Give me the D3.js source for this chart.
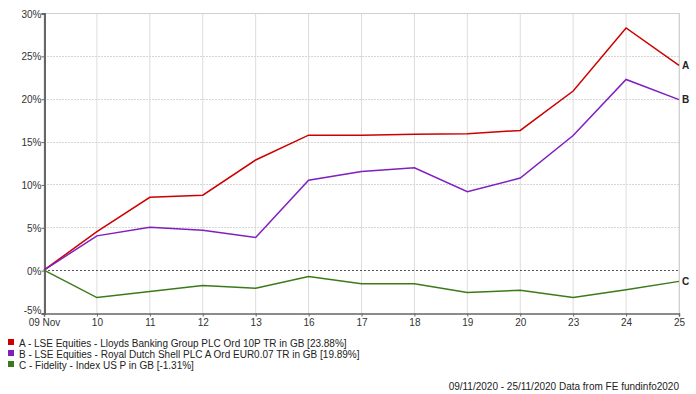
<!DOCTYPE html>
<html>
<head>
<meta charset="utf-8">
<style>
  body { margin: 0; background: #fff; }
  svg { font-family: "Liberation Sans", Arial, sans-serif; }
</style>
<script src="https://cdnjs.cloudflare.com/ajax/libs/d3/7.8.5/d3.min.js"></script>
</head>
<body>
<div id="chart"></div>
<script>
// dates (x categories)
var days = ["09 Nov", "10", "11", "12", "13", "16", "17", "18", "19", "20", "23", "24", "25"];
// cumulative % performance
var seriesA = [0, 4.5, 8.5, 8.75, 12.85, 15.75, 15.75, 15.85, 15.9, 16.3, 20.9, 28.25, 23.88];
var seriesB = [0, 4.0, 5.0, 4.65, 3.8, 10.5, 11.5, 11.95, 9.15, 10.75, 15.7, 22.25, 19.89];
var seriesC = [0, -3.2, -2.5, -1.8, -2.1, -0.75, -1.6, -1.6, -2.6, -2.35, -3.2, -2.3, -1.31];
var names = [
  "A - LSE Equities - Lloyds Banking Group PLC Ord 10P TR in GB [23.88%]",
  "B - LSE Equities - Royal Dutch Shell PLC A Ord EUR0.07 TR in GB [19.89%]",
  "C - Fidelity - Index US P in GB [-1.31%]"
];
var letters = ["A", "B", "C"];
var colors = ["#cc0000", "#7f1fbf", "#3a7a1a"];
var yTicks = [-5, 0, 5, 10, 15, 20, 25, 30];

var width = 696, height = 394;
var margin = {left: 44, right: 17, top: 13, bottom: 81};

var svg = d3.select("#chart").append("svg")
  .attr("width", width).attr("height", height);

var x = d3.scalePoint().domain(days).range([margin.left, width - margin.right]);
var y = d3.scaleLinear().domain([-5, 30]).range([height - margin.bottom, margin.top]);

// grid
svg.append("g").selectAll("line").data(days).join("line")
  .attr("x1", d => x(d)).attr("x2", d => x(d))
  .attr("y1", y(30)).attr("y2", y(-5))
  .attr("stroke", "#dcdcdc").attr("stroke-width", 1);

svg.append("g").selectAll("line").data(yTicks.filter(d => d != 0 && d != 30 && d != -5)).join("line")
  .attr("x1", x.range()[0]).attr("x2", x.range()[1])
  .attr("y1", d => Math.round(y(d)) + 0.5).attr("y2", d => Math.round(y(d)) + 0.5)
  .attr("stroke", "#d6d6d6").attr("stroke-dasharray", "2,1");

// top + right frame
svg.append("path")
  .attr("d", "M" + x.range()[0] + "," + (Math.round(y(30)) + 0.5) + "H" + (x.range()[1] + 0.5) + "V" + y(-5))
  .attr("fill", "none").attr("stroke", "#d0d0d0");

// zero line
svg.append("line")
  .attr("x1", x.range()[0]).attr("x2", x.range()[1])
  .attr("y1", Math.round(y(0)) + 0.5).attr("y2", Math.round(y(0)) + 0.5)
  .attr("stroke", "#555").attr("stroke-dasharray", "2,2");

// axes
var yAxis = svg.append("g")
  .attr("transform", "translate(" + (margin.left + 0.5) + ",0.5)")
  .call(d3.axisLeft(y).tickValues(yTicks).tickFormat(d => d + "%").tickSize(3));
yAxis.select(".domain").attr("stroke", "#666").attr("stroke-width", 2);
yAxis.selectAll(".tick line").attr("stroke", "#666");
yAxis.selectAll("text").attr("font-size", 10).attr("fill", "#333").attr("x", -3)
  .attr("dy", d => d == -5 ? "-0.05em" : "0.35em");

var xAxis = svg.append("g")
  .attr("transform", "translate(0," + (Math.round(y(-5)) + 0.5) + ")")
  .call(d3.axisBottom(x).tickSize(3));
xAxis.select(".domain").attr("stroke", "#666").attr("stroke-width", 1.5);
xAxis.selectAll(".tick line").attr("stroke", "#666");
xAxis.selectAll("text").attr("font-size", 10).attr("fill", "#333").attr("y", 5);

// lines
var line = d3.line().x((d, i) => x(days[i])).y(d => y(d));
var allSeries = [seriesA, seriesB, seriesC];
svg.append("g").selectAll("path").data(allSeries).join("path")
  .attr("d", line)
  .attr("fill", "none")
  .attr("stroke", (d, i) => colors[i])
  .attr("stroke-width", 1.5);

// end labels
svg.append("g").selectAll("text").data(allSeries).join("text")
  .attr("x", x.range()[1] + 3)
  .attr("y", d => y(d[d.length - 1]))
  .attr("dy", "0.35em")
  .attr("font-size", 10).attr("font-weight", "bold").attr("fill", "#222")
  .text((d, i) => letters[i]);

// legend
var leg = svg.append("g").selectAll("g").data(names).join("g")
  .attr("transform", (d, i) => "translate(8," + (343 + i * 11) + ")");
leg.append("rect").attr("x", 0).attr("y", -4).attr("width", 6).attr("height", 6)
  .attr("fill", (d, i) => colors[i]);
leg.append("text").attr("x", 11).attr("y", 0).attr("dy", "0.35em")
  .attr("font-size", 10).attr("fill", "#222").text(d => d);

// footer
svg.append("text")
  .attr("x", 679).attr("y", 390)
  .attr("text-anchor", "end")
  .attr("font-size", 10).attr("fill", "#222")
  .text("09/11/2020 - 25/11/2020 Data from FE fundinfo2020");
</script>
</body>
</html>
